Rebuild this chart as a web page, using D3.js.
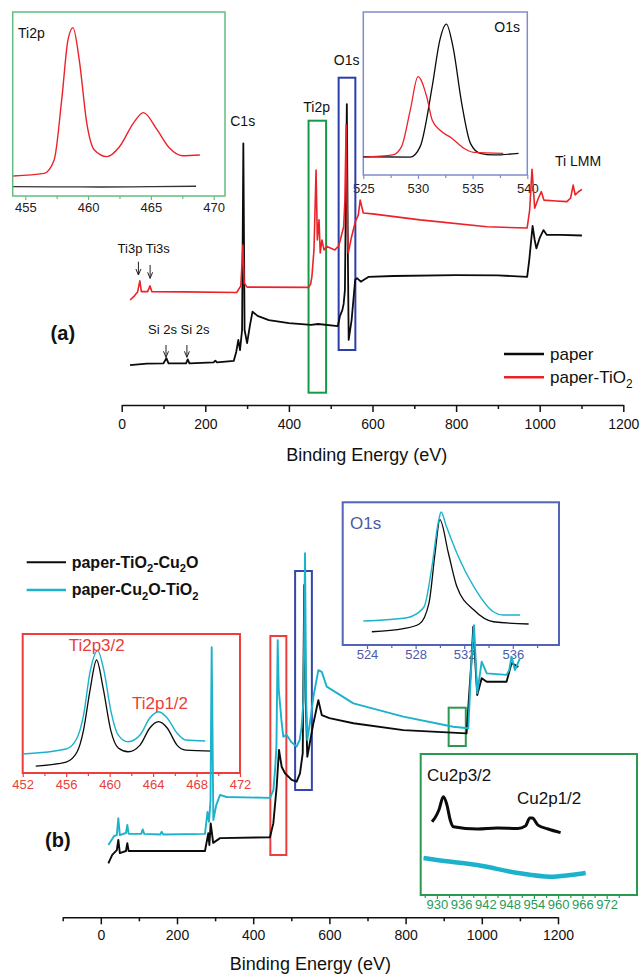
<!DOCTYPE html>
<html>
<head>
<meta charset="utf-8">
<script src="https://cdn.jsdelivr.net/npm/d3@7"></script>
<style>
  body { margin: 0; background: #fff; }
  svg { font-family: Arial, "Liberation Sans", sans-serif; }
</style>
</head>
<body>
<div id="chart"></div>
<script>
// ---------- panel (a): survey spectra ----------
const aPaperE = [20, 60, 100, 107, 112, 154, 158, 162, 220, 224, 228, 268, 274, 279, 283, 288, 291, 294, 300, 307, 313, 325, 352, 400, 453, 470, 517, 522, 528, 531, 534, 538.6, 541, 543, 550, 558.6, 563, 572, 590, 650, 800, 900, 970, 975, 983, 988, 992, 1000, 1009, 1017, 1050, 1101];
const aPaperI = [13.3, 13.8, 13.9, 15.6, 13.9, 13.9, 15.2, 13.9, 14.2, 14.8, 14.2, 14.7, 17.7, 21.7, 18.3, 25, 87.2, 25, 20.6, 26.7, 31.1, 29.7, 28.3, 27.3, 26.7, 27, 26.3, 29.6, 31.7, 33.7, 38.3, 100.3, 51.7, 21.7, 28.3, 41.7, 42.3, 41.1, 42.7, 43, 43.3, 43.2, 42.7, 48.3, 59.7, 55, 52.2, 55.7, 58.3, 56.7, 56.7, 56.5];
const aTiO2E = [20, 30, 38, 43.4, 47, 62, 67.8, 72, 150, 275, 285, 290, 293, 300, 447, 452, 455, 460, 465, 468, 472, 475, 479, 484, 491, 510, 519, 523, 531, 534, 537, 540, 542, 550, 559, 566, 570.5, 578, 600, 714, 874, 970, 976, 981.6, 988, 997, 1004, 1010, 1040, 1065, 1074, 1080, 1085, 1092, 1101];
const aTiO2I = [35, 36.3, 37.7, 41.4, 37.8, 37.8, 39.7, 37.8, 37.7, 37.5, 39.7, 53.3, 40.7, 39.3, 39.2, 40.3, 42.8, 51.7, 78.3, 55, 61.7, 50.7, 55, 51.7, 52.8, 51.7, 53, 55, 59.4, 68.3, 93.3, 58.3, 50.7, 56.1, 61.1, 63.3, 68.3, 64, 63.7, 61.7, 59.4, 59, 65, 78.6, 65.6, 69, 71.1, 68.3, 68, 67.8, 69, 73.3, 70, 71, 71.9];
const aTicks = [0, 200, 400, 600, 800, 1000, 1200];
const aMinor = [100, 300, 500, 700, 900, 1100];

// panel (a) insets
const aTiE = [454.05, 456.5, 457.3, 457.9, 458.4, 458.8, 459.3, 459.9, 460.5, 461.5, 462.5, 463.6, 464.4, 465.5, 466.5, 467.5, 468.9];
const aTiRed = [10.9, 12.3, 19.6, 52.2, 84.8, 91.5, 73.9, 39.5, 25, 21.4, 26.8, 39.5, 45.3, 35.9, 25.9, 21.9, 22.3];
const aTiBlackE = [454.05, 457, 461, 465, 468.6];
const aTiBlack = [5.1, 5.0, 4.9, 5.1, 5.3];
const aTiTicks = [455, 460, 465, 470];
const aOBlackE = [525, 529.3, 530.2, 531.3, 532, 532.6, 533.2, 534, 534.8, 535.7, 536.9, 539.2];
const aOBlack = [11.2, 11, 17.4, 54.2, 82.8, 92.6, 78.7, 44, 19.4, 13.3, 12.3, 13.3];
const aORedE = [525, 527.7, 528.5, 529.3, 530, 530.8, 531.3, 532, 533.1, 534.2, 535.1, 537.8];
const aORed = [10.9, 12.3, 17.4, 39.9, 60.3, 48, 33.7, 27.6, 22.5, 16.4, 13.9, 13.3];
const aOTicks = [525, 530, 535, 540];

// ---------- panel (b): survey spectra ----------
const bTiCuE = [19.8, 30, 42, 46, 50, 66, 69.6, 73, 273.5, 282, 285, 288.4, 295, 313, 444, 452.8, 461.6, 467.7, 474.7, 483.5, 501, 514, 522.8, 530, 534, 538, 542, 558, 571, 580, 600, 663, 794, 960, 973, 977.6, 988, 999.7, 1013, 1065, 1078, 1096];
const bTiCuI = [17.9, 20.7, 22.3, 25.7, 21.3, 22, 24.6, 22, 22, 27.9, 24, 31.2, 24.7, 26.3, 26.6, 31.2, 43.4, 55.7, 50.1, 47.9, 45.7, 45.1, 47.9, 54.6, 110.7, 72.3, 53.4, 64.6, 72.3, 67.3, 66.3, 64.6, 62.3, 61.2, 85.7, 96.8, 74, 79.6, 78.4, 78.4, 84.6, 83.4];
const bCuTiE = [19.8, 35, 42, 46, 50, 66, 69.6, 73, 106, 110, 114, 156, 159.8, 164, 273.5, 280, 284, 288, 291, 295.4, 303, 313, 330, 444, 453, 458, 461, 464.3, 467, 470.3, 474, 479, 488, 500, 514, 522, 527, 532, 536, 539, 542, 550, 558, 571, 580, 593, 663, 794, 925, 964.6, 973, 979.5, 988, 999.7, 1013, 1065, 1072, 1078, 1087, 1100];
const bCuTiI = [24, 27, 27.3, 32.9, 27.3, 28, 30.7, 27.7, 27.7, 29.2, 27.7, 27.5, 28.4, 27.5, 27.7, 35, 31.7, 39, 89.9, 32.3, 37.3, 40.7, 40, 39.7, 42.3, 50.1, 57.3, 92.3, 75.7, 71.2, 65.7, 60.1, 60.7, 58.3, 56.8, 59, 63.4, 72.3, 121.3, 72.3, 59, 65.7, 73.4, 82.3, 81.7, 76.8, 71.2, 66.8, 63.4, 62.9, 85.7, 97.3, 74.6, 85.1, 81.2, 80.7, 82.3, 86.8, 82.3, 86.2];
const bTicks = [0, 200, 400, 600, 800, 1000, 1200];
const bMinor = [-100, 100, 300, 500, 700, 900, 1100];

// panel (b) insets
const bTiCyanE = [452, 456, 457, 457.6, 458.2, 458.9, 459.5, 460.1, 460.8, 461.7, 462.8, 463.7, 464.5, 465.3, 466.2, 467, 468.8];
const bTiCyan = [13.7, 17.3, 25.2, 41.7, 72.7, 88, 72.7, 45.3, 27.3, 22.5, 27.3, 39.6, 44.1, 39.6, 28.8, 23.7, 23];
const bTiBlackE = [453.2, 456, 457, 457.6, 458.2, 458.8, 459.4, 460.1, 460.8, 461.7, 462.8, 463.7, 464.5, 465.3, 466.2, 467, 469.5];
const bTiBlack = [5, 7.9, 15.1, 30.9, 59.7, 81.3, 61.2, 30.9, 18, 15.3, 20.1, 32.4, 36.9, 32.4, 20.1, 16.5, 15.8];
const bTiTicks = [452, 456, 460, 464, 468, 472];
const bOCyanE = [523.7, 527, 527.6, 528.7, 529.3, 529.9, 530.1, 530.5, 531.4, 532.8, 534.4, 535.2, 536.6];
const bOCyan = [16.8, 18.7, 19.8, 26.8, 52.4, 87.4, 93.2, 83.9, 64.3, 40.8, 23.3, 21, 21];
const bOBlackE = [524.4, 527, 528.3, 529.1, 529.6, 530, 530.7, 531.4, 532.8, 534.4, 537.3];
const bOBlack = [9.3, 11.5, 14.7, 29.4, 64.3, 87.9, 64.3, 40.8, 24.5, 16.3, 14.7];
const bOTicks = [524, 528, 532, 536];
const bCuBlackE = [928.8, 929.5, 930.5, 931.6, 932.5, 933.3, 934.1, 940, 945, 950, 951.9, 953, 953.6, 955, 957.5, 960.6];
const bCuBlack = [52, 54.6, 60.3, 69.7, 63.8, 53.2, 48.4, 46.8, 47.5, 47.2, 48.9, 54.6, 54.6, 49.6, 46.8, 44.2];
const bCuCyanE = [926.7, 930, 940, 950, 958, 963, 966.8];
const bCuCyan = [26.2, 24.8, 21.3, 15.6, 13, 14.2, 15.6];
const bCuTicks = [930, 936, 942, 948, 954, 960, 966, 972];

const RED = "#ec2229", CYAN = "#1cb2cb", BLACK = "#0b0b0b";

const svg = d3.select("#chart").append("svg")
  .attr("width", 641)
  .attr("height", 974);

function plotLine(g, x, y, E, I, color, w, curve) {
  g.append("path")
    .datum(d3.zip(E, I))
    .attr("fill", "none")
    .attr("stroke", color)
    .attr("stroke-width", w)
    .attr("stroke-linejoin", "round")
    .attr("d", d3.line().x(d => x(d[0])).y(d => y(d[1])).curve(curve || d3.curveLinear));
}

function bottomAxis(yPos, x, majors, minors, o) {
  const g = svg.append("g").attr("transform", `translate(0,${yPos})`);
  g.call(d3.axisBottom(x).tickValues(majors).tickFormat(d3.format("d"))
    .tickSize(o.major).tickSizeOuter(0).tickPadding(o.pad));
  const m = svg.append("g").attr("transform", `translate(0,${yPos})`);
  m.call(d3.axisBottom(x).tickValues(minors).tickSize(o.minor).tickSizeOuter(0).tickFormat(""));
  m.select(".domain").remove();
  [g, m].forEach(s => {
    s.selectAll("line").attr("stroke", o.color).attr("stroke-width", o.w);
    s.select(".domain").attr("stroke", o.color).attr("stroke-width", o.w);
  });
  g.selectAll("text").attr("fill", o.text).style("font-size", o.font + "px").attr("font-family", "Arial, 'Liberation Sans', sans-serif");
  return g;
}

// text with "_2" subscripts
function subText(sel, str, size) {
  let shift = 0;
  str.split(/(_\d)/).filter(s => s).forEach(s => {
    if (s[0] === "_") {
      sel.append("tspan").attr("dy", size * 0.3).style("font-size", (size * 0.7) + "px").text(s.slice(1));
      shift = -size * 0.3;
    } else {
      sel.append("tspan").attr("dy", shift).text(s);
      shift = 0;
    }
  });
}

function label(x, y, txt, size, color, anchor, weight) {
  const t = svg.append("text").attr("x", x).attr("y", y)
    .attr("fill", color || "#111")
    .attr("text-anchor", anchor || "start")
    .style("font-size", size + "px")
    .style("font-weight", weight || "normal");
  subText(t, txt, size);
  return t;
}

function box(x0, y0, x1, y1, color, w) {
  svg.append("rect").attr("x", x0).attr("y", y0).attr("width", x1 - x0).attr("height", y1 - y0)
    .attr("fill", "none").attr("stroke", color).attr("stroke-width", w || 2);
}

function arrow(x, y0, y1) {
  svg.append("path")
    .attr("d", `M${x},${y0}L${x},${y1}M${x - 2.5},${y1 - 6}L${x},${y1}L${x + 2.5},${y1 - 6}`)
    .attr("fill", "none").attr("stroke", "#222").attr("stroke-width", 1);
}

function inset(cfg) {
  box(cfg.x0, cfg.y0, cfg.x1, cfg.y1, cfg.border, cfg.bw || 1.5);
  const x = d3.scaleLinear().domain(cfg.domain).range([cfg.x0, cfg.x1]);
  const y = d3.scaleLinear().domain([0, 100]).range([cfg.y1, cfg.y0]);
  const g = bottomAxis(cfg.y1, x, cfg.ticks, cfg.minors,
    { major: 4, minor: 3, pad: cfg.pad, color: cfg.border, w: 1.2, text: cfg.text, font: 13 });
  g.select(".domain").remove();
  const gl = svg.append("g");
  cfg.series.forEach(s => plotLine(gl, x, y, s[0], s[1], s[2], s[3], d3.curveMonotoneX));
}

// ===== panel (a) =====
const xA = d3.scaleLinear().domain([0, 1200]).range([121.7, 623.3]);
const yA = d3.scaleLinear().domain([0, 100]).range([405, 105]);

inset({ x0: 12.7, y0: 12, x1: 225, y1: 196, domain: [454, 470.9], ticks: aTiTicks,
  minors: [457.5, 462.5, 467.5], border: "#62bd80", text: "#222", pad: 3,
  series: [[aTiBlackE, aTiBlack, "#333", 1.3], [aTiE, aTiRed, RED, 1.4]] });
label(18, 38, "Ti2p", 14);

inset({ x0: 363.3, y0: 12, x1: 527.3, y1: 175, domain: [525, 540], ticks: aOTicks,
  minors: [527.5, 532.5, 537.5], border: "#7f8ccf", text: "#222", pad: 5,
  series: [[aOBlackE, aOBlack, BLACK, 1.3], [aORedE, aORed, RED, 1.3]] });
label(520, 32, "O1s", 14, "#111", "end");

box(xA(447), 120.7, xA(489), 392.7, "#169a48", 2);
box(xA(519), 77.7, xA(559), 350, "#2c3ea8", 2);

const gA = svg.append("g");
plotLine(gA, xA, yA, aPaperE, aPaperI, BLACK, 1.8);
plotLine(gA, xA, yA, aTiO2E, aTiO2I, RED, 1.6);

bottomAxis(405, xA, aTicks, aMinor, { major: 7, minor: 4, pad: 7, color: "#111", w: 1.5, text: "#111", font: 14 });
label(366.7, 461, "Binding Energy (eV)", 18, "#111", "middle");

label(242.7, 126, "C1s", 14, "#111", "middle");
label(316.7, 112, "Ti2p", 14, "#111", "middle");
label(346.7, 65, "O1s", 14, "#111", "middle");
label(578, 166, "Ti LMM", 14, "#111", "middle");
label(117.6, 253, "Ti3p Ti3s", 13);
arrow(xA(40), 261.7, 275);
arrow(xA(68), 265, 278.3);
label(148, 334, "Si 2s  Si 2s", 13);
arrow(xA(106), 345, 357.3);
arrow(xA(156), 345, 357.3);
label(50.6, 340, "(a)", 20, "#111", "start", "bold");

svg.append("line").attr("x1", 504).attr("x2", 544).attr("y1", 354).attr("y2", 354).attr("stroke", BLACK).attr("stroke-width", 2.5);
label(550, 360, "paper", 17);
svg.append("line").attr("x1", 504).attr("x2", 544).attr("y1", 377.3).attr("y2", 377.3).attr("stroke", RED).attr("stroke-width", 2.5);
label(550, 383, "paper-TiO_2", 17);

// ===== panel (b) =====
const xB = d3.scaleLinear().domain([-100, 1200]).range([62.7, 558]);
const yB = d3.scaleLinear().domain([0, 100]).range([917, 617]);

inset({ x0: 22.7, y0: 634, x1: 240, y1: 773, domain: [452, 472], ticks: bTiTicks,
  minors: [454, 458, 462, 466, 470], border: "#ee3d3d", text: "#e8403a", pad: 3, bw: 2,
  series: [[bTiBlackE, bTiBlack, BLACK, 1.3], [bTiCyanE, bTiCyan, CYAN, 1.4]] });
label(96.7, 651, "Ti2p3/2", 17, "#e8403a", "middle");
label(160, 709, "Ti2p1/2", 17, "#e8403a", "middle");

inset({ x0: 342.7, y0: 502.3, x1: 559, y1: 645, domain: [522, 539.8], ticks: bOTicks,
  minors: [526, 530, 534, 538], border: "#5263b8", text: "#4c5aaa", pad: 1, bw: 2,
  series: [[bOBlackE, bOBlack, BLACK, 1.3], [bOCyanE, bOCyan, CYAN, 1.4]] });
label(350, 529, "O1s", 17, "#4c5aaa");

inset({ x0: 420.7, y0: 754, x1: 637, y1: 895, domain: [926, 979.5], ticks: bCuTicks,
  minors: [927, 933, 939, 945, 951, 957, 963, 969, 975], border: "#2a9a50", text: "#2a9a5a", pad: 1, bw: 2,
  series: [[bCuBlackE, bCuBlack, BLACK, 3], [bCuCyanE, bCuCyan, CYAN, 4.5]] });
label(427, 781, "Cu2p3/2", 17);
label(517, 804, "Cu2p1/2", 17);

box(xB(445), 636, xB(487), 855, "#ee3d3d", 2);
box(xB(510), 571, xB(554), 790, "#3446ac", 2);
box(xB(913), 707.7, xB(958), 746, "#2a9a50", 2);

const gB = svg.append("g");
plotLine(gB, xB, yB, bTiCuE, bTiCuI, BLACK, 1.9);
plotLine(gB, xB, yB, bCuTiE, bCuTiI, CYAN, 1.9);

bottomAxis(917.3, xB, bTicks, bMinor, { major: 7, minor: 4, pad: 6, color: "#111", w: 1.5, text: "#111", font: 14 });
label(310.4, 970, "Binding Energy (eV)", 18, "#111", "middle");
label(45, 847, "(b)", 20, "#111", "start", "bold");

svg.append("line").attr("x1", 26.7).attr("x2", 66).attr("y1", 562.3).attr("y2", 562.3).attr("stroke", BLACK).attr("stroke-width", 2);
label(71.7, 567.5, "paper-TiO_2-Cu_2O", 16, "#111", "start", "bold");
svg.append("line").attr("x1", 26.7).attr("x2", 66).attr("y1", 590).attr("y2", 590).attr("stroke", CYAN).attr("stroke-width", 2.5);
label(71.7, 595, "paper-Cu_2O-TiO_2", 16, "#111", "start", "bold");
</script>
</body>
</html>
